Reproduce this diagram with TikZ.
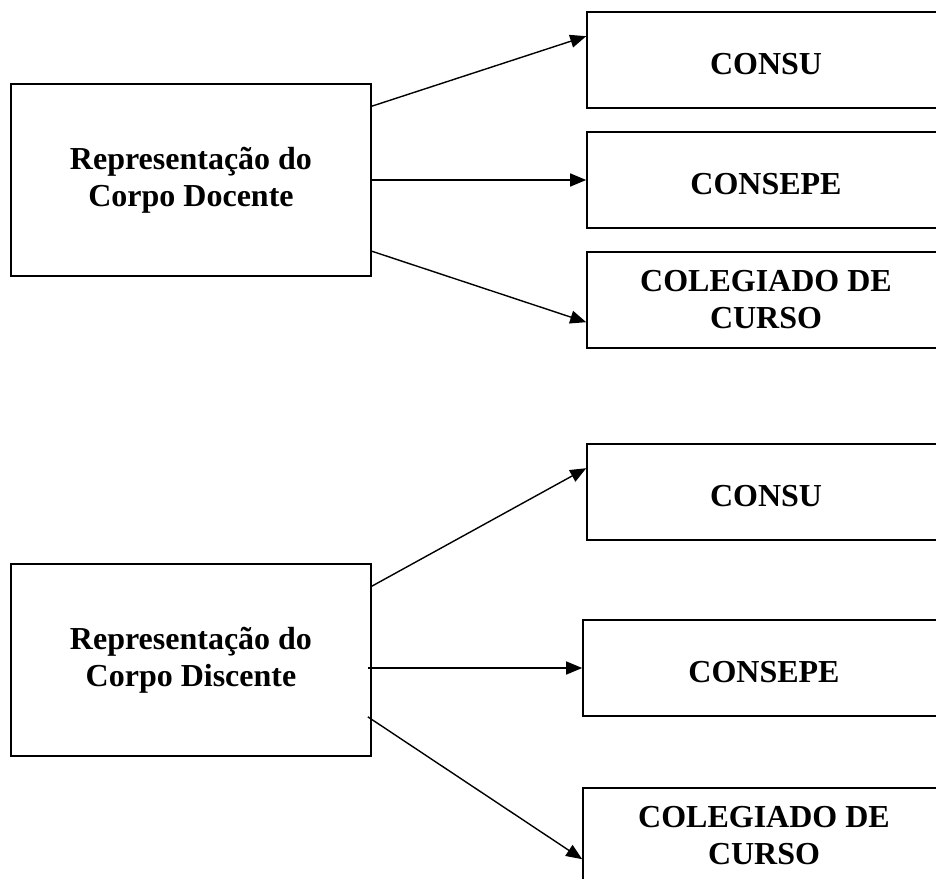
\documentclass[tikz,border=0pt]{standalone}
\usepackage{fontspec}
\setmainfont{Liberation Serif}
\usetikzlibrary{arrows.meta,calc}
\tikzset{
  box/.style={draw=black, line width=0.8pt, rectangle, inner sep=0pt, align=center,
    font=\fontsize{16}{18.5}\selectfont\bfseries},
  srcbox/.style={box, minimum width=180pt, minimum height=96pt},
  dstbox/.style={box, minimum width=179pt, minimum height=48pt},
  oneline/.style={text height=14.6pt, text depth=0pt},
  arr/.style={line width=0.7pt, -{Triangle[length=8pt,width=6.5pt]}}
}
\begin{document}
\begin{tikzpicture}[x=0.5pt,y=-0.5pt]
\useasboundingbox (0,0) rectangle (936,878);
\clip (0,0) rectangle (936,878);
% top group
\node[srcbox] (tl) at (191,180) {Representação do\\Corpo Docente};
\node[dstbox, oneline] (c1) at (766,60) {CONSU};
\node[dstbox, oneline] (c2) at (766,180) {CONSEPE};
\node[dstbox] (c3) at (766,300) {COLEGIADO DE\\CURSO};
\draw[arr] ($(tl.north east)+(0,23)$) -- ($(c1.north west)+(0,25)$);
\draw[arr] (tl.east) -- (c2.west);
\draw[arr] ($(tl.north east)+(0,168)$) -- ($(c3.north west)+(0,71)$);
% bottom group
\node[srcbox] (bl) at (191,660) {Representação do\\Corpo Discente};
\node[dstbox, oneline] (d1) at (766,492) {CONSU};
\node[dstbox, oneline, minimum width=181pt] (d2) at (764,668) {CONSEPE};
\node[dstbox, minimum width=181pt] (d3) at (764,836) {COLEGIADO DE\\CURSO};
\draw[arr] ($(bl.north east)+(0,23)$) -- ($(d1.north west)+(0,25)$);
\draw[arr] ($(bl.east)+(-4,8)$) -- (d2.west);
\draw[arr] ($(bl.south east)+(-4,-40)$) -- ($(d3.north west)+(0,72)$);
\end{tikzpicture}
\end{document}
